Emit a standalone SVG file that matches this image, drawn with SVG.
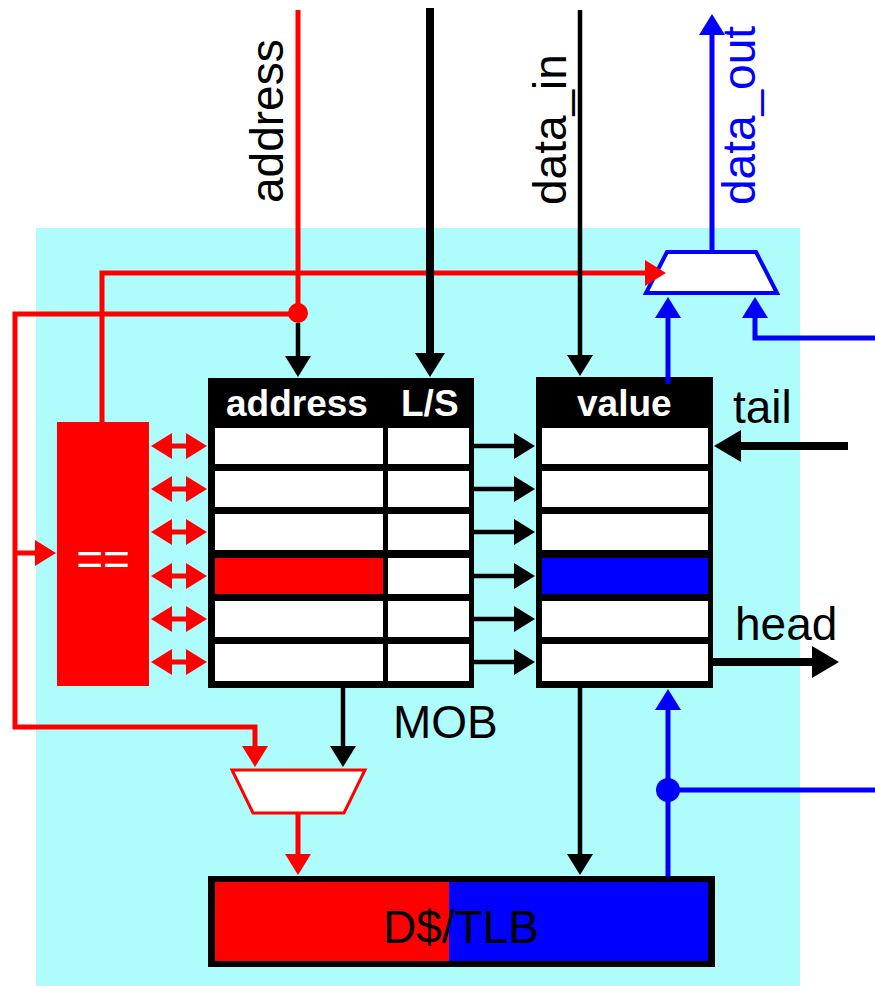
<svg xmlns="http://www.w3.org/2000/svg" width="875" height="986" viewBox="0 0 875 986">
<style>
.lbl{font-family:"Liberation Sans",Arial,sans-serif;font-size:46px;fill:#000}
.hdr{font-family:"Liberation Sans",Arial,sans-serif;font-size:37px;font-weight:bold;fill:#fff}
.cell{fill:#fff}
.r{fill:none;stroke:#ff0000;stroke-width:5}
.k{fill:none;stroke:#000;stroke-width:4.5}
.kb{fill:none;stroke:#000;stroke-width:8}
.b{fill:none;stroke:#0000ff;stroke-width:5}
</style>
<defs>
<marker id="aR" markerUnits="userSpaceOnUse" viewBox="0 -13 21 26" refX="1" refY="0" markerWidth="21" markerHeight="26" orient="auto-start-reverse"><path d="M0,-13 L21,0 L0,13 z" fill="#ff0000"/></marker>
<marker id="aK" markerUnits="userSpaceOnUse" viewBox="0 -13 21 26" refX="1" refY="0" markerWidth="21" markerHeight="26" orient="auto"><path d="M0,-13 L21,0 L0,13 z" fill="#000"/></marker>
<marker id="aKL" markerUnits="userSpaceOnUse" viewBox="0 -15 24 30" refX="1" refY="0" markerWidth="24" markerHeight="30" orient="auto"><path d="M0,-15 L24,0 L0,15 z" fill="#000"/></marker>
<marker id="aKH" markerUnits="userSpaceOnUse" viewBox="0 -16 27 32" refX="1" refY="0" markerWidth="27" markerHeight="32" orient="auto"><path d="M0,-16 L27,0 L0,16 z" fill="#000"/></marker>
<marker id="aB" markerUnits="userSpaceOnUse" viewBox="0 -13 21 26" refX="1" refY="0" markerWidth="21" markerHeight="26" orient="auto"><path d="M0,-13 L21,0 L0,13 z" fill="#0000ff"/></marker>
</defs>

<rect x="36" y="228" width="764" height="758" fill="#aefcfc"/>

<g id="labels">
<text class="lbl" transform="translate(283,203) rotate(-90)">address</text>
<text class="lbl" transform="translate(566,205) rotate(-90)">data_in</text>
<text class="lbl" transform="translate(755,205) rotate(-90)" style="fill:#0000ff">data_out</text>
<text class="lbl" x="733" y="423">tail</text>
<text class="lbl" x="735" y="640">head</text>
<text class="lbl" x="393" y="738">MOB</text>
</g>

<g id="cmp">
<rect x="57" y="422" width="92" height="264" fill="#ff0000"/>
<text x="103" y="575" text-anchor="middle" style="font-family:'Liberation Sans',Arial,sans-serif;font-size:46px;fill:#fff">==</text>
</g>

<g id="mob">
<rect x="208" y="378" width="266" height="310" fill="#000"/>
<text class="hdr" x="226" y="416">address</text>
<text class="hdr" x="401" y="416">L/S</text>
<rect class="cell" x="215" y="428" width="168" height="36"/><rect class="cell" x="388" y="428" width="81" height="36"/>
<rect class="cell" x="215" y="471" width="168" height="36"/><rect class="cell" x="388" y="471" width="81" height="36"/>
<rect class="cell" x="215" y="514" width="168" height="36"/><rect class="cell" x="388" y="514" width="81" height="36"/>
<rect x="215" y="558" width="168" height="36" fill="#ff0000"/><rect class="cell" x="388" y="558" width="81" height="36"/>
<rect class="cell" x="215" y="601" width="168" height="36"/><rect class="cell" x="388" y="601" width="81" height="36"/>
<rect class="cell" x="215" y="644" width="168" height="37"/><rect class="cell" x="388" y="644" width="81" height="37"/>
</g>

<g id="value">
<rect x="536" y="377" width="177" height="311" fill="#000"/>
<text class="hdr" x="577" y="416">value</text>
<rect class="cell" x="542" y="428" width="166" height="36"/>
<rect class="cell" x="542" y="471" width="166" height="36"/>
<rect class="cell" x="542" y="514" width="166" height="36"/>
<rect x="542" y="558" width="166" height="36" fill="#0000ff"/>
<rect class="cell" x="542" y="601" width="166" height="36"/>
<rect class="cell" x="542" y="644" width="166" height="37"/>
</g>

<g id="muxOut">
<polygon points="667,252 756,252 777,293 646,293" fill="#fff" stroke="#0000ff" stroke-width="4"/>
</g>

<g id="muxAddr">
<polygon points="232,770 365,770 344,813 253,813" fill="#fff" stroke="#ff0000" stroke-width="3"/>
</g>

<g id="dtlb">
<rect x="208" y="876" width="507" height="91" fill="#000"/>
<rect x="215" y="882" width="234" height="79" fill="#ff0000"/>
<rect x="449" y="882" width="259" height="79" fill="#0000ff"/>
<text class="lbl" x="383" y="943">D$/TLB</text>
</g>

<g id="connectors">
<path class="r" d="M102,422 V273 H646" marker-end="url(#aR)"/>
<path class="r" d="M298,10 V314 H15 V727 H255 V747" marker-end="url(#aR)"/>
<path class="r" d="M15,553 H36" marker-end="url(#aR)"/>
<circle cx="298" cy="313" r="10" fill="#ff0000"/>
<path class="k" d="M298,323 V357" marker-end="url(#aK)"/>
<path class="kb" d="M430,8 V354" marker-end="url(#aKL)"/>
<path class="k" d="M580,10 V356" marker-end="url(#aK)"/>

<path class="r" d="M171,446 H187" marker-start="url(#aR)" marker-end="url(#aR)"/>
<path class="r" d="M171,489 H187" marker-start="url(#aR)" marker-end="url(#aR)"/>
<path class="r" d="M171,532 H187" marker-start="url(#aR)" marker-end="url(#aR)"/>
<path class="r" d="M171,576 H187" marker-start="url(#aR)" marker-end="url(#aR)"/>
<path class="r" d="M171,619 H187" marker-start="url(#aR)" marker-end="url(#aR)"/>
<path class="r" d="M171,662 H187" marker-start="url(#aR)" marker-end="url(#aR)"/>

<path class="k" d="M474,446 H515" marker-end="url(#aK)"/>
<path class="k" d="M474,489 H515" marker-end="url(#aK)"/>
<path class="k" d="M474,532 H515" marker-end="url(#aK)"/>
<path class="k" d="M474,576 H515" marker-end="url(#aK)"/>
<path class="k" d="M474,619 H515" marker-end="url(#aK)"/>
<path class="k" d="M474,662 H515" marker-end="url(#aK)"/>

<path class="kb" d="M848,446 H740" marker-end="url(#aKH)"/>
<path class="kb" d="M713,662 H813" marker-end="url(#aKH)"/>

<path class="b" d="M712,252 V34" marker-end="url(#aB)"/>
<path class="b" d="M668,384 V317" marker-end="url(#aB)"/>
<path class="b" d="M875,338 H755 V317" marker-end="url(#aB)"/>

<path class="k" d="M343,688 V747" marker-end="url(#aK)"/>
<path class="r" d="M298,813 V855" marker-end="url(#aR)"/>
<path class="k" d="M580,688 V855" marker-end="url(#aK)"/>
<path class="b" d="M668,877 V709" marker-end="url(#aB)"/>
<path class="b" d="M668,790 H875"/>
<circle cx="668" cy="790" r="12" fill="#0000ff"/>
</g>
</svg>
